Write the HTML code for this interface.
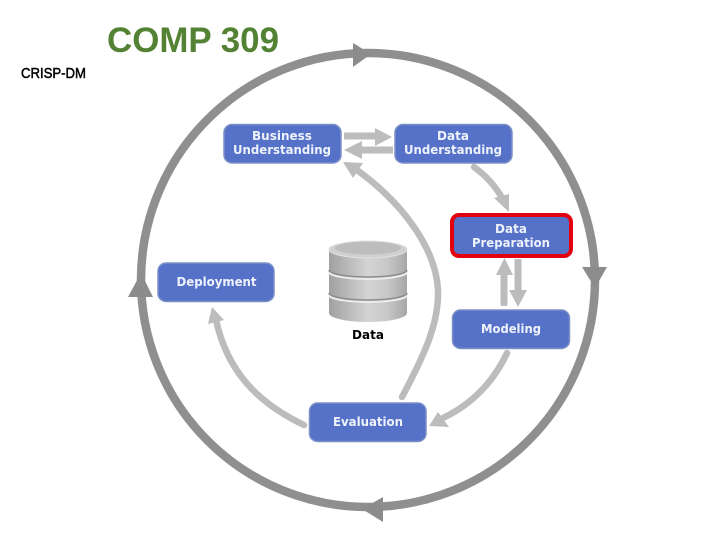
<!DOCTYPE html>
<html><head><meta charset="utf-8"><style>
html,body{margin:0;padding:0;background:#fff;width:720px;height:540px;overflow:hidden}
svg{display:block}
.b{font:bold 12px "DejaVu Sans",sans-serif;fill:#eef2fb;text-anchor:middle}
</style></head><body>
<svg width="720" height="540" viewBox="0 0 720 540" xmlns="http://www.w3.org/2000/svg">
<defs>
<linearGradient id="g" x1="0" x2="1" y1="0" y2="0">
<stop offset="0" stop-color="#a0a0a0"/><stop offset=".5" stop-color="#d4d4d4"/><stop offset=".75" stop-color="#c8c8c8"/><stop offset="1" stop-color="#a6a6a6"/>
</linearGradient>
</defs>
<text x="107" y="52" font-family="'Liberation Sans',sans-serif" font-weight="bold" font-size="35" fill="#548235" textLength="172" lengthAdjust="spacingAndGlyphs">COMP 309</text>
<text x="21" y="78" font-family="'Liberation Sans',sans-serif" font-size="14.5" fill="#000" textLength="65" lengthAdjust="spacingAndGlyphs" stroke="#000" stroke-width=".5">CRISP-DM</text>

<circle cx="368" cy="280" r="227" fill="none" stroke="#8f8f8f" stroke-width="8.5"/>
<polygon points="371,54 353,43 353,67" fill="#8c8c8c"/>
<polygon points="595,288 582,267 607,267" fill="#8c8c8c"/>
<polygon points="141,273 128,297 153,297" fill="#8c8c8c"/>
<polygon points="362,509 383,497 383,522" fill="#8c8c8c"/>

<g fill="#bcbcbc" stroke="none">
<rect x="344" y="132.500" width="32" height="7"/><polygon points="392,137 375,128 375,146"/>
<rect x="361" y="146.500" width="32" height="7"/><polygon points="344,150 362,141 362,159"/>
<rect x="500.500" y="274" width="7" height="32" rx="2"/><polygon points="504.500,258 496,275 513,275"/>
<rect x="514.500" y="259" width="7" height="32"/><polygon points="518,307 509,290 527,290"/>
<polygon points="509,212 494,198 509,194"/>
<polygon points="429,426 438,412 449,427"/>
<polygon points="343,162 363,163 353,178"/>
<polygon points="212,307 208,324 224,320"/>
</g>
<g fill="none" stroke="#bcbcbc" stroke-width="6.500" stroke-linecap="round">
<path d="M474,167 Q492,180 502,198"/>
<path d="M507,353 C492,385 470,405 443,418"/>
<path d="M402,397 C426,352 439,322 438,290 C436,250 405,205 357,170"/>
<path d="M304,425 C262,405 228,375 216,320"/>
</g>

<g stroke="#7d90c6" stroke-width="1.500" fill="#5672c8">
<rect x="224" y="124.500" width="117" height="38.500" rx="8"/>
<rect x="395" y="124.500" width="117" height="38.500" rx="8"/>
<rect x="452.500" y="310" width="117" height="38.500" rx="8"/>
<rect x="158" y="263" width="116" height="38.500" rx="8"/>
<rect x="309.500" y="403" width="116.500" height="38.500" rx="8"/>
</g>
<rect x="452" y="215" width="119" height="41" rx="7" fill="#5672c8" stroke="#e2000f" stroke-width="4"/>

<text class="b" x="282" y="140">Business</text>
<text class="b" x="282" y="154" textLength="98" lengthAdjust="spacingAndGlyphs">Understanding</text>
<text class="b" x="453" y="140">Data</text>
<text class="b" x="453" y="154" textLength="98" lengthAdjust="spacingAndGlyphs">Understanding</text>
<text class="b" x="511" y="233">Data</text>
<text class="b" x="511" y="247" textLength="78" lengthAdjust="spacingAndGlyphs">Preparation</text>
<text class="b" x="511" y="333" textLength="60" lengthAdjust="spacingAndGlyphs">Modeling</text>
<text class="b" x="216.500" y="286" textLength="80" lengthAdjust="spacingAndGlyphs">Deployment</text>
<text class="b" x="368" y="426" textLength="70" lengthAdjust="spacingAndGlyphs">Evaluation</text>

<g>
<path d="M329,250 V313 A39,9 0 0 0 407,313 V250Z" fill="url(#g)"/>
<path d="M329,270 a39,7 0 0 0 78,0" fill="none" stroke="#8c8c8c" stroke-width="1.500"/>
<path d="M329,272 a39,7 0 0 0 78,0" fill="none" stroke="#ececec" stroke-width="2"/>
<path d="M329,293 a39,7 0 0 0 78,0" fill="none" stroke="#8c8c8c" stroke-width="1.500"/>
<path d="M329,295 a39,7 0 0 0 78,0" fill="none" stroke="#ececec" stroke-width="2"/>
<ellipse cx="368" cy="249.500" rx="39" ry="8.500" fill="#d0d0d0" stroke="#e0e0e0" stroke-width="1"/>
<ellipse cx="368" cy="248" rx="33" ry="6.500" fill="#bdbdbd"/>
</g>
<text x="368" y="339" font-family="'DejaVu Sans',sans-serif" font-weight="bold" font-size="12" fill="#000" text-anchor="middle">Data</text>
</svg>
</body></html>
